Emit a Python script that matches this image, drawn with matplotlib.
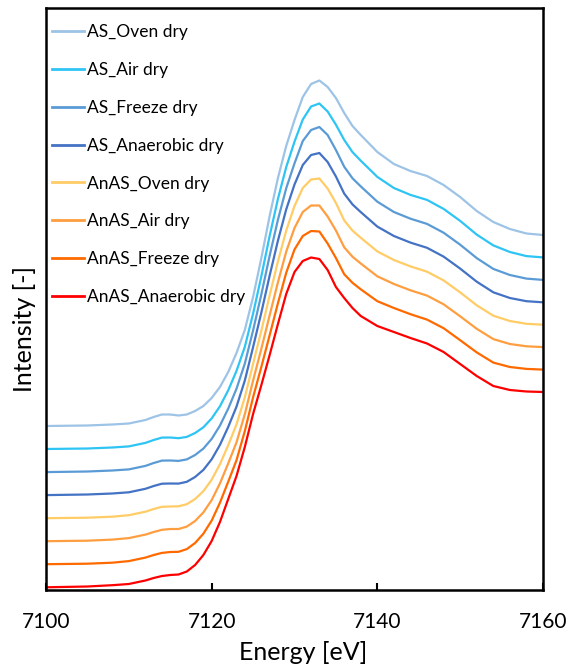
import matplotlib
matplotlib.use("Agg")
import matplotlib.pyplot as plt

plt.rcParams['font.family'] = ['Lato', 'DejaVu Sans']

energy = [7100, 7105, 7108, 7110, 7112, 7113, 7114, 7115, 7116, 7117, 7118, 7119,
          7120, 7121, 7122, 7123, 7124, 7125, 7126, 7127, 7128, 7129, 7130, 7131,
          7132, 7133, 7134, 7135, 7136, 7137, 7138, 7140, 7142, 7144, 7146, 7148,
          7150, 7152, 7154, 7156, 7158, 7160]

as_oven = [164, 164.5, 165.5, 166.5, 170, 173, 175.5, 175.5, 174.5, 175.5, 179, 184,
           192, 203, 218, 237, 260, 293, 332, 374, 412, 444, 470, 493,
           506, 509.5, 503, 492, 477, 464, 455, 438, 426, 419, 414, 405,
           393, 379, 368, 361, 356.5, 355]
as_air = [141.0, 141.5, 142.5, 143.6, 147.1, 150.0, 152.4, 152.5, 151.8, 153.1, 157.0, 162.7,
          171.6, 183.7, 199.7, 219.1, 243.1, 276.3, 313.9, 354.1, 391.1, 422.9, 448.3, 470.5,
          483.5, 486.5, 478.5, 465.3, 450.1, 437.9, 429.3, 413.1, 402.0, 395.1, 390.1, 381.1,
          369.1, 355.4, 344.6, 338.0, 333.9, 332.6]
as_freeze = [117.9, 118.5, 119.5, 120.6, 124.1, 127.0, 129.4, 129.5, 129.1, 130.6, 135.0, 141.4,
             151.1, 164.4, 181.4, 201.3, 226.3, 259.6, 295.7, 334.3, 370.3, 401.7, 426.6, 449.0,
             460.0, 463.0, 455.0, 440.0, 423.3, 411.7, 403.6, 388.3, 378.0, 371.3, 366.1, 357.3,
             345.3, 331.9, 321.1, 315.0, 311.4, 310.1]
as_anaerobic = [94.9, 95.5, 96.5, 97.7, 101.2, 104.0, 106.3, 106.5, 106.4, 108.2, 113.0, 120.1,
                130.7, 145.1, 163.1, 183.4, 209.4, 242.9, 277.6, 314.4, 349.4, 380.6, 405.5, 425.0,
                435.0, 437.0, 428.0, 413.5, 396.4, 385.6, 377.9, 363.4, 354.0, 347.4, 342.2, 333.4,
                321.4, 308.3, 297.7, 292.0, 288.8, 287.7]
anas_oven = [71.8, 72.3, 73.3, 74.8, 78.3, 81.0, 83.2, 83.5, 83.7, 85.8, 91.0, 98.8,
             110.3, 125.8, 144.8, 165.6, 192.6, 226.2, 259.4, 294.6, 328.6, 359.4, 384.0, 402.0,
             410.5, 411.5, 401.5, 387.0, 369.6, 359.4, 352.2, 338.6, 330.0, 323.6, 318.3, 309.6,
             297.6, 284.7, 274.3, 269.0, 266.2, 265.3]
anas_air = [48.8, 49.3, 50.4, 51.9, 55.4, 58.0, 60.2, 61.0, 61.0, 63.4, 69.0, 77.6,
            89.9, 106.6, 126.6, 147.7, 175.7, 209.5, 241.3, 274.7, 307.7, 338.3, 362.0, 378.0,
            384.5, 384.5, 373.5, 359.5, 342.7, 333.3, 326.5, 313.7, 306.0, 299.7, 294.4, 285.7,
            273.7, 261.2, 250.9, 246.0, 243.7, 242.9]
anas_freeze = [25.8, 26.3, 27.3, 28.9, 32.4, 35.0, 37.1, 38.0, 38.2, 40.9, 47.0, 56.3,
               69.4, 87.3, 108.3, 129.8, 158.8, 192.7, 223.2, 254.8, 286.8, 317.2, 340.5, 354.0,
               359.0, 358.5, 346.5, 332.0, 315.8, 307.2, 300.7, 288.8, 282.0, 275.8, 270.4, 261.8,
               249.8, 237.6, 227.4, 223.0, 221.1, 220.4]
anas_anaerobic = [2.7, 3.5, 4.8, 6, 9.5, 12, 14, 15, 15.5, 18.5, 25, 35,
                  49, 68, 91, 114, 143, 176, 205, 235, 266, 296, 318, 329,
                  332.5, 331, 320, 303, 292, 282, 274, 264, 258, 252, 246.5, 238,
                  226, 214, 204, 200, 198.5, 198]

labels = ['AS_Oven dry', 'AS_Air dry', 'AS_Freeze dry', 'AS_Anaerobic dry',
          'AnAS_Oven dry', 'AnAS_Air dry', 'AnAS_Freeze dry', 'AnAS_Anaerobic dry']
series = [as_oven, as_air, as_freeze, as_anaerobic,
          anas_oven, anas_air, anas_freeze, anas_anaerobic]
colors = ['#9DC3E6', '#2EC4F4', '#5B9BD5', '#4472C4',
          '#FFCC66', '#FF9E40', '#FF6A00', '#FF0000']

W, H = 568, 668
fig = plt.figure(figsize=(W/100, H/100), dpi=100)
ax = fig.add_axes([46/W, 1-590/H, (543-46)/W, (590-8)/H])

for y, c, lab in zip(series, colors, labels):
    ax.plot(energy, y, color=c, lw=1.6, label=lab, solid_joinstyle='round')

ax.set_xlim(7100, 7160)
ax.set_ylim(0, 582)
ax.set_xticks([7100, 7120, 7140, 7160])
ax.set_yticks([])
ax.tick_params(axis='x', direction='in', length=5, width=1.5, pad=16, labelsize=15)
for s in ax.spines.values():
    s.set_linewidth(1.8)
    s.set_color('black')

ax.set_xlabel('Energy [eV]', fontsize=18)
ax.xaxis.label.set_va('center')
ax.xaxis.set_label_coords((303-46)/497, (590-652)/582)
ax.set_ylabel('Intensity [-]', fontsize=18)
ax.yaxis.label.set_va('center')
ax.yaxis.set_label_coords((24-46)/497, (590-329)/582)

leg = ax.legend(loc='upper left', bbox_to_anchor=(6/497, 1-16/582), frameon=False,
                fontsize=12.5, handlelength=1.85, handletextpad=0.15,
                labelspacing=1.26, borderaxespad=0.0, borderpad=0.0)
for h in leg.get_lines():
    h.set_linewidth(2)

fig.savefig('out.png', dpi=100)
